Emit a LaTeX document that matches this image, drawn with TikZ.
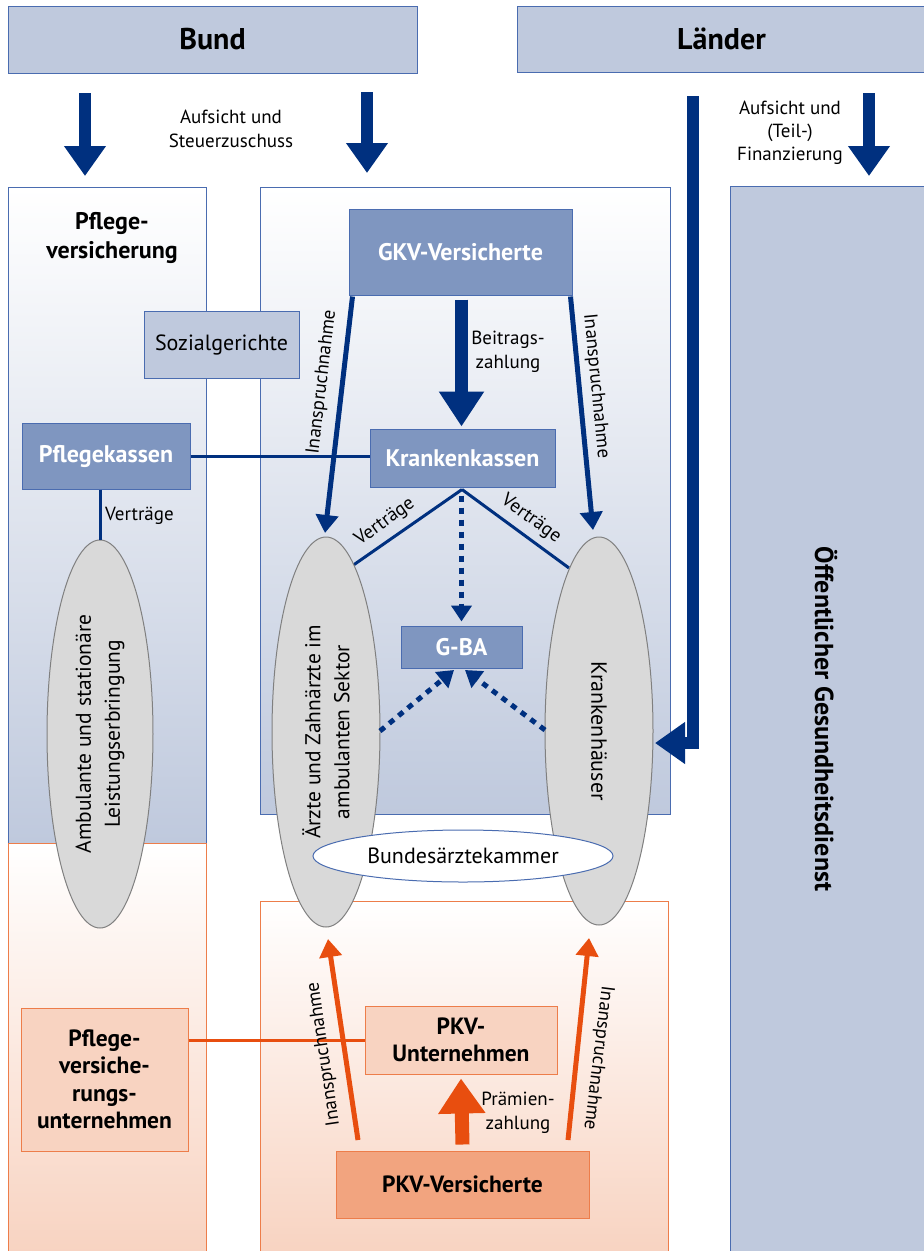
\documentclass[tikz,border=0pt]{standalone}
\usepackage{fontspec}
\setmainfont{PT Sans}
\usetikzlibrary{arrows.meta,shapes.geometric,calc}
\definecolor{navy}{HTML}{00307F}
\definecolor{lblue}{HTML}{BFC9DD}
\definecolor{mblue}{HTML}{7F96C0}
\definecolor{bborder}{HTML}{4A6CB0}
\definecolor{orng}{HTML}{E84E0F}
\definecolor{oborder}{HTML}{ED7D4A}
\definecolor{peach}{HTML}{F8D3C1}
\definecolor{dpeach}{HTML}{F2A47F}
\definecolor{ellgray}{HTML}{D9D9D9}
\definecolor{ellline}{HTML}{808080}
\newcommand{\fs}[2]{\fontsize{#1}{#2}\selectfont}
\tikzset{
  topbox/.style={draw=bborder, fill=lblue, line width=1pt, inner sep=0, font=\bfseries\fs{30}{34}},
  darkbox/.style={draw=bborder, fill=mblue, text=white, line width=1pt, inner sep=0, align=center, font=\bfseries\fs{24}{28}},
  lightbox/.style={draw=bborder, fill=lblue, line width=1pt, inner sep=0, align=center, font=\fs{22}{26}},
  obox/.style={draw=oborder, fill=peach, line width=1pt, inner sep=0, align=center, font=\bfseries\fs{23.5}{27.5}},
  ell/.style={ellipse, draw=ellline, fill=ellgray, line width=1pt, inner sep=0, align=center, font=\fs{21.5}{29}},
  lbl/.style={inner sep=0, align=center, font=\fs{19}{24}},
  fat/.style={draw=navy, line width=12pt, -{Triangle[width=40pt,length=30pt]}},
  fatb/.style={draw=navy, line width=13pt, -{Triangle[width=43pt,length=35pt]}},
  mid/.style={draw=navy, line width=5pt, -{Triangle[width=22pt,length=18pt]}},
  dots/.style={draw=navy, line width=5pt, dash pattern=on 6pt off 6pt, -{Triangle[width=20pt,length=16pt]}},
  thin/.style={draw=navy, line width=3pt},
  omid/.style={draw=orng, line width=5pt, -{Triangle[width=22pt,length=18pt]}},
  ofat/.style={draw=orng, line width=14pt, -{Triangle[width=45pt,length=35pt]}},
  othin/.style={draw=orng, line width=3pt},
}
\begin{document}
\begin{tikzpicture}[x=1pt,y=-1pt]
\useasboundingbox (0,0) rectangle (924,1251);
% background columns
\shade[top color=white, bottom color=lblue] (8,187) rectangle (206,843);
\draw[bborder, line width=1pt] (8,843) -- (8,187) -- (206,187) -- (206,843);
\shade[top color=white, bottom color=peach] (8,843) rectangle (206,1253);
\draw[oborder, line width=1pt] (8,1253) -- (8,843) -- (206,843) -- (206,1253);
\shade[top color=white, bottom color=lblue] (260,187) rectangle (670,814);
\draw[bborder, line width=1pt] (260,187) rectangle (670,814);
\shade[top color=white, bottom color=peach] (260,901) rectangle (668,1253);
\draw[oborder, line width=1pt] (260,1253) -- (260,901) -- (668,901) -- (668,1253);
\draw[bborder, fill=lblue, line width=1pt] (730,186) rectangle (926,1253);
\node[rotate=-90, inner sep=0, font=\bfseries\fs{26}{30}] (oegd) at (826,719) {Öffentlicher Gesundheitsdienst};

% top boxes
\node[topbox, minimum width=409, minimum height=67] (bund) at (212.5,39.5) {Bund};
\node[topbox, minimum width=409, minimum height=66] (laender) at (721.5,39) {Länder};
\node[lbl] (lb1) at (231,129) {Aufsicht und\\Steuerzuschuss};
\node[lbl, font=\fs{19}{23}] (lb2) at (790,133) {Aufsicht und\\(Teil-)\\Finanzierung};
\coordinate (a1s) at (85,93); \coordinate (a1e) at (85,176);
\coordinate (a2s) at (367,92); \coordinate (a2e) at (367,173);
\coordinate (a3s) at (869,93); \coordinate (a3e) at (869,176);
\draw[fat] (a1s) -- (a1e);
\draw[fat] (a2s) -- (a2e);
\draw[fat] (a3s) -- (a3e);

\node[inner sep=0, align=center, font=\bfseries\fs{24}{29}] (pvtitle) at (112,238) {Pflege-\\versicherung};

% boxes in GKV
\node[darkbox, minimum width=223, minimum height=86] (gkv) at (460.5,252) {GKV-Versicherte};
\node[lightbox, minimum width=155, minimum height=67] (sozial) at (221.5,344.5) {Sozialgerichte};
\node[darkbox, minimum width=168, minimum height=66] (pflegek) at (106,456) {Pflegekassen};
\node[darkbox, minimum width=185, minimum height=58] (krankenk) at (462.5,458) {Krankenkassen};
\node[darkbox, minimum width=121, minimum height=42] (gba) at (461.5,647) {G-BA};

% connectors behind ellipses
\draw[thin] (pflegek.east) -- (pflegek.east -| krankenk.west);
\coordinate (v1) at (352,566); \coordinate (v2) at (569,568);
\draw[thin] ($(krankenk.south)+(-0.5,2)$) -- (v1);
\draw[thin] ($(krankenk.south)+(-0.5,2)$) -- (v2);
\node[lbl, rotate=35.7] (vl1) at (385,522) {Verträge};
\node[lbl, rotate=-35.7] (vl2) at (531,519) {Verträge};

% ellipses
\node[ell, rotate=90, minimum width=388, minimum height=106] (amb) at (100,734) {Ambulante und stationäre\\Leistungserbringung};
\node[ell, rotate=90, minimum width=390, minimum height=108] (aerzte) at (326,732) {Ärzte und Zahnärzte im\\ambulanten Sektor};
\node[ell, rotate=-90, minimum width=388, minimum height=108, font=\fs{22}{26}] (kh) at (599,731) {Krankenhäuser};
\node[ellipse, draw=bborder, fill=white, line width=1pt, inner sep=0, minimum width=300, minimum height=52, font=\fs{22}{26}] (baek) at (463,856) {Bundesärztekammer};

\draw[thin] (pflegek.south -| amb.east) -- (amb.east);
\node[lbl, anchor=west] (vl0) at (105,516) {Verträge};

% GKV arrows
\draw[fatb] ($(gkv.south)+(1,4)$) -- ($(krankenk.north)+(-1,-2)$);
\node[lbl] (beit) at (508,352) {Beitrags-\\zahlung};
\coordinate (i1e) at (325,533); \coordinate (i2e) at (593,530);
\draw[mid] ($(gkv.south west)+(4,1)$) -- (i1e);
\draw[mid] ($(gkv.south east)+(-2,1)$) -- (i2e);
\node[lbl, rotate=83.3] (in1) at (322,382) {Inanspruchnahme};
\node[lbl, rotate=-84.4] (in2) at (596,386) {Inanspruchnahme};
\draw[dots] ($(krankenk.south)+(-1,8)$) -- ($(gba.north)+(0,-4)$);
\coordinate (d1s) at (380,731); \coordinate (d1e) at (454,670);
\coordinate (d2s) at (545,730); \coordinate (d2e) at (465,670);
\draw[dots] (d1s) -- (d1e);
\draw[dots] (d2s) -- (d2e);

% Laender L-arrow
\coordinate (l1) at (693,96); \coordinate (l2) at (693,743); \coordinate (l3) at (655,743);
\draw[fat, line join=miter] (l1) -- (l2) -- (l3);

% PKV part
\node[obox, minimum width=167, minimum height=143] (pvu) at (104.5,1079.5) {Pflege-\\versiche-\\rungs-\\unternehmen};
\node[obox, minimum width=192, minimum height=68] (pkvu) at (461,1040) {PKV-\\Unternehmen};
\node[obox, fill=dpeach, minimum width=253, minimum height=67] (pkvv) at (462.5,1184.5) {PKV-Versicherte};
\draw[othin] (pkvu.west -| pvu.east) -- (pkvu.west);
\draw[ofat] ($(pkvv.north)+(0,-6)$) -- ($(pkvu.south)+(0,4)$);
\node[lbl] (praem) at (518,1113) {Prämien-\\zahlung};
\coordinate (o1s) at (358,1140); \coordinate (o1e) at (328,939);
\coordinate (o2s) at (568,1140); \coordinate (o2e) at (589,938);
\draw[omid] (o1s) -- (o1e);
\draw[omid] (o2s) -- (o2e);
\node[lbl, rotate=98.3] (in3) at (324,1054) {Inanspruchnahme};
\node[lbl, rotate=-97] (in4) at (598,1058) {Inanspruchnahme};
\end{tikzpicture}
\end{document}
